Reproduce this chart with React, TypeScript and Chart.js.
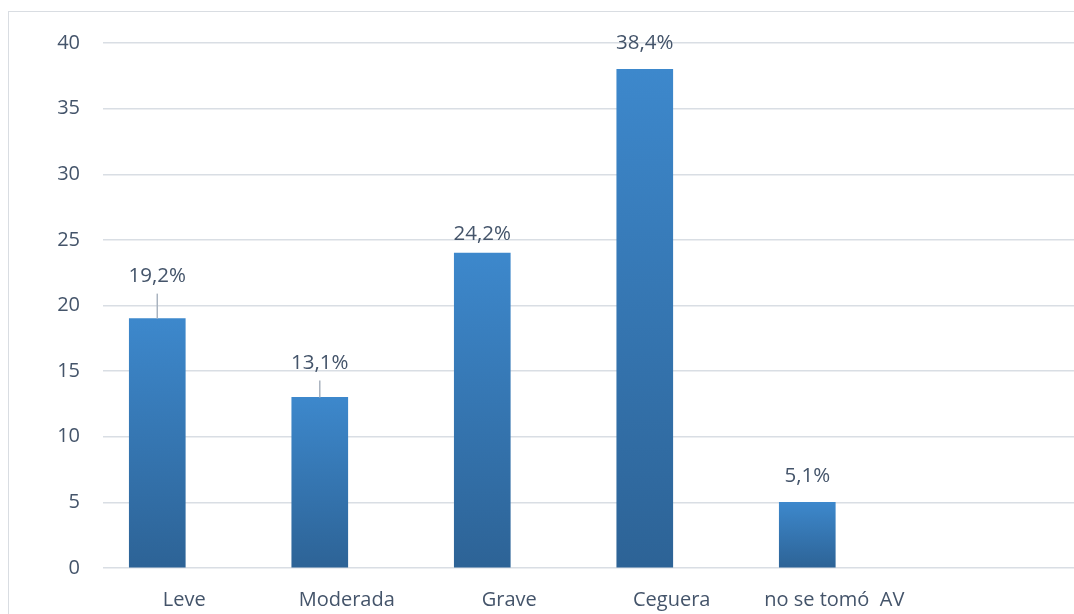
import React, { useEffect, useRef } from "react";
import { Chart, registerables } from "chart.js";

Chart.register(...registerables);

const categories = ["Leve", "Moderada", "Grave", "Ceguera", "no se tomó  AV"];
const values = [19, 13, 24, 38, 5];
const valueLabels = ["19,2%", "13,1%", "24,2%", "38,4%", "5,1%"];
const yTicks = [0, 5, 10, 15, 20, 25, 30, 35, 40];

// bars sit left of the category centre (Excel cluster with an empty slot)
const barShift = -0.166;
// label placement (distance from bar top to label centre) and leader-line flags
const labelOffsets = [43, 35, 20, 27, 27];
const leaderLines = [true, true, false, false, false];

const TEXT = "#44546a";
const FONT = "'Open Sans', sans-serif";

export default function App() {
  const ref = useRef<HTMLCanvasElement | null>(null);

  useEffect(() => {
    const canvas = ref.current;
    if (!canvas) return;

    const labelPlugin = {
      id: "valueLabels",
      afterDatasetsDraw(chart: any) {
        const ctx = chart.ctx;
        const meta = chart.getDatasetMeta(0);
        ctx.save();
        ctx.font = `20.5px ${FONT}`;
        ctx.fillStyle = TEXT;
        ctx.textAlign = "center";
        ctx.textBaseline = "middle";
        meta.data.forEach((bar: any, i: number) => {
          const cy = bar.y - labelOffsets[i];
          if (leaderLines[i]) {
            ctx.strokeStyle = "#a9b3bf";
            ctx.lineWidth = 1.5;
            ctx.beginPath();
            ctx.moveTo(bar.x, cy + 18);
            ctx.lineTo(bar.x, bar.y);
            ctx.stroke();
          }
          ctx.fillText(valueLabels[i], bar.x, cy + 1);
        });
        ctx.restore();
      },
    };

    const chart = new Chart(canvas, {
      type: "bar",
      data: {
        datasets: [
          {
            data: categories.map((_, i) => ({ x: i + barShift, y: values[i] })),
            barThickness: 56,
            backgroundColor: (c: any) => {
              const ch = c.chart;
              const ys = ch.scales?.y;
              if (!ch.chartArea || !ys || c.raw == null) return "#3576b4";
              const top = ys.getPixelForValue(c.raw.y);
              const bottom = ys.getPixelForValue(0);
              if (!isFinite(top) || !isFinite(bottom) || top === bottom) return "#3576b4";
              const g = ch.ctx.createLinearGradient(0, top, 0, bottom);
              g.addColorStop(0, "#3d88cc");
              g.addColorStop(1, "#2d6396");
              return g;
            },
            borderWidth: 0,
          },
        ],
      },
      options: {
        animation: false,
        responsive: false,
        maintainAspectRatio: false,
        layout: { padding: { top: 31, left: 0, right: 0, bottom: 0 } },
        plugins: {
          legend: { display: false },
          tooltip: { enabled: false },
        },
        scales: {
          x: {
            type: "linear",
            offset: false,
            min: -0.5,
            max: 5.5,
            grid: { display: false, drawTicks: false, offset: false },
            border: { display: false },
            afterFit: (s: any) => {
              s.height = 54;
              s.paddingLeft = 0;
              s.paddingRight = 0;
            },
            afterBuildTicks: (s: any) => {
              s.ticks = categories.map((_, i) => ({ value: i }));
            },
            ticks: {
              autoSkip: false,
              maxRotation: 0,
              padding: 20,
              color: TEXT,
              font: { family: FONT, size: 20 },
              callback: (v: any) => categories[Math.round(v as number)] ?? "",
            },
          },
          y: {
            min: 0,
            max: 40,
            afterFit: (s: any) => {
              s.width = 94;
              s.paddingTop = 0;
              s.paddingBottom = 0;
            },
            afterBuildTicks: (s: any) => {
              s.ticks = yTicks.map((v) => ({ value: v }));
            },
            grid: { color: "#d9dee4", lineWidth: 1.5, drawTicks: false },
            border: { display: false },
            ticks: {
              padding: 23,
              color: TEXT,
              font: { family: FONT, size: 20 },
            },
          },
        },
      },
      plugins: [labelPlugin],
    } as any);

    return () => chart.destroy();
  }, []);

  return (
    <div
      style={{
        position: "fixed",
        left: 8,
        top: 11,
        width: 1090,
        height: 620,
        border: "1px solid #d9dde2",
        background: "#fff",
      }}
    >
      <canvas ref={ref} width={1069} height={610} style={{ display: "block" }} />
    </div>
  );
}
